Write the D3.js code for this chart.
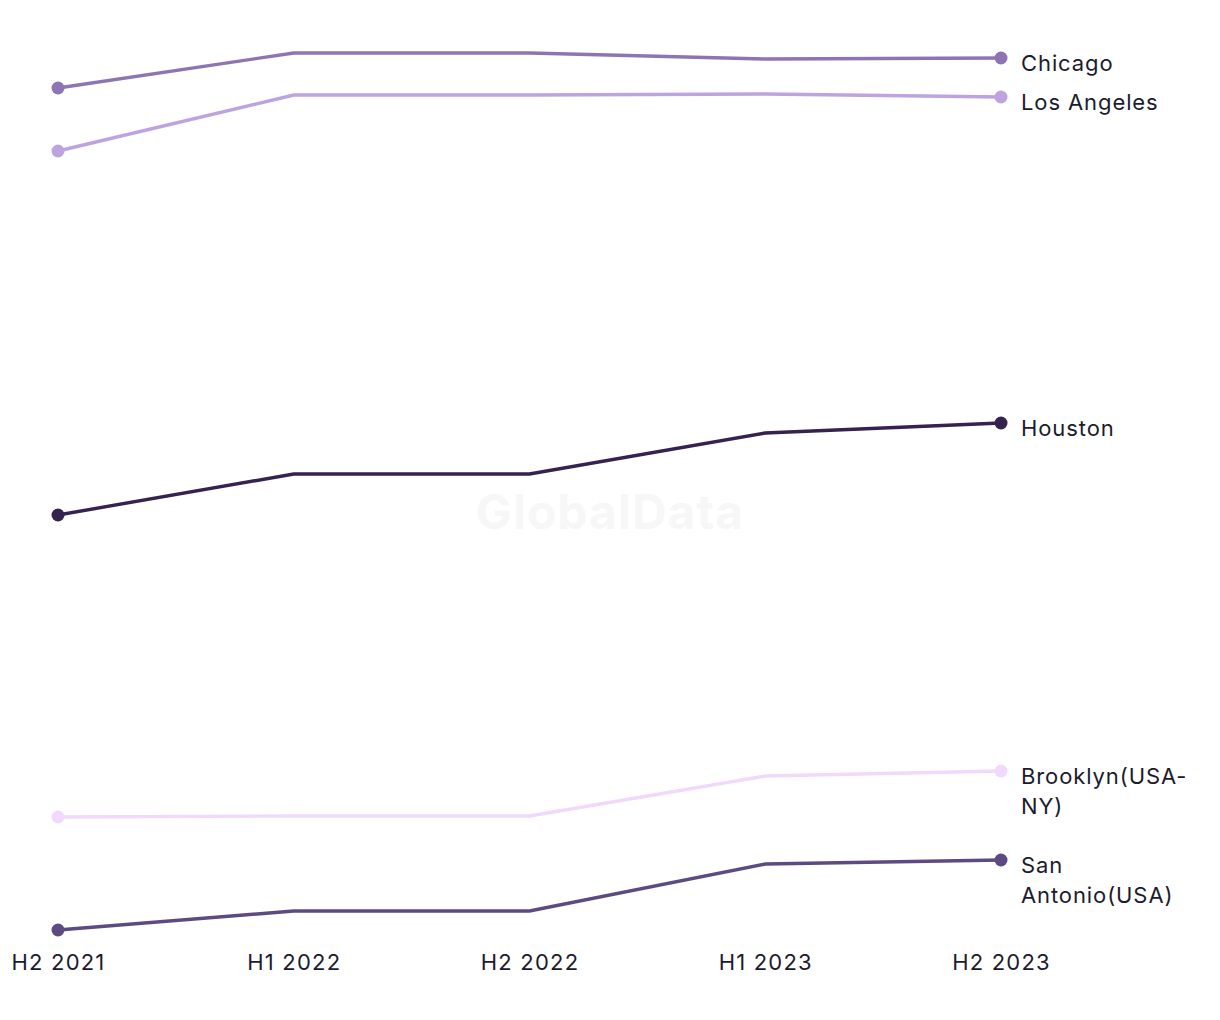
<!DOCTYPE html>
<html><head><meta charset="utf-8">
<script src="https://cdn.jsdelivr.net/npm/d3@7"></script>
<style>body{margin:0;background:#fff}svg{display:block}</style>
</head><body>
<svg id="chart" width="1220" height="1020"></svg>
<script>
const periods = ["H2 2021","H1 2022","H2 2022","H1 2023","H2 2023"];
const chicago = [842, 877, 877, 871, 872];
const losAngeles = [779, 835, 835, 836, 833];
const houston = [415, 456, 456, 497, 507];
const brooklyn = [113, 114, 114, 154, 159];
const sanAntonio = [0, 19, 19, 66, 70];
const seriesNames = ["Chicago","Los Angeles","Houston","Brooklyn(USA-NY)","San Antonio(USA)"];
const labelLines = [["Chicago"],["Los Angeles"],["Houston"],["Brooklyn(USA-","NY)"],["San","Antonio(USA)"]];
const colors = ["#8f74b3","#bda3e0","#35224f","#f0d9fb","#5e4a82"];
const seriesValues = [chicago, losAngeles, houston, brooklyn, sanAntonio];

const svg = d3.select("#chart");
const font = "Inter, 'Noto Sans', sans-serif";
const textColor = "#1c1b2e";

const x = d3.scalePoint().domain(periods).range([58, 1001]);
const allV = seriesValues.flat();
const y = d3.scaleLinear().domain([d3.min(allV), d3.max(allV)]).range([930, 53]);

svg.append("text").attr("x", 610).attr("y", 529).attr("text-anchor","middle")
  .attr("font-family", font).attr("font-weight", 700).attr("font-size", 48)
  .attr("letter-spacing", 1)
  .attr("fill", "#f7f7f7").text("GlobalData");

const xAxis = d3.axisBottom(x).tickSize(0).tickPadding(0);
const gx = svg.append("g").attr("transform","translate(0,955)").call(xAxis);
gx.select(".domain").remove();
gx.selectAll("text").attr("font-family", font).attr("font-size", 22)
  .attr("letter-spacing", 1.2)
  .attr("fill", textColor).attr("dy", "0.7em");

const line = d3.line().x((d,i)=>x(periods[i])).y(d=>y(d));

seriesValues.forEach((vals, s) => {
  const g = svg.append("g");
  g.append("path").datum(vals).attr("d", line).attr("fill","none")
    .attr("stroke", colors[s]).attr("stroke-width", 3.4);
  const last = vals.length - 1;
  g.selectAll("circle").data([0, last]).join("circle")
    .attr("cx", i => x(periods[i])).attr("cy", i => y(vals[i])).attr("r", 6.5)
    .attr("fill", colors[s]);
  const lines = labelLines[s];
  const yl = y(vals[last]) + 6;
  const t = g.append("text").attr("font-family", font).attr("font-size", 22)
    .attr("letter-spacing", 0.9)
    .attr("fill", textColor);
  lines.forEach((ln, k) => {
    t.append("tspan").attr("x", 1021).attr("y", yl + 7 + k*30).text(ln);
  });
});
</script>
</body></html>
